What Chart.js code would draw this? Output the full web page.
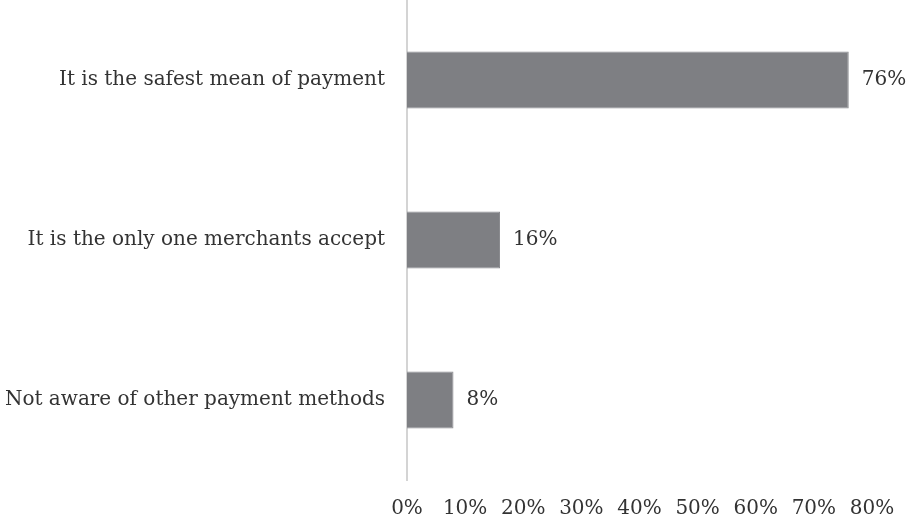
<!DOCTYPE html>
<html>
<head>
<meta charset="utf-8">
<script src="https://cdn.jsdelivr.net/npm/chart.js@4.4.1/dist/chart.umd.min.js"></script>
<style>
  html, body { margin: 0; padding: 0; background: #fff; }
  #wrap { width: 909px; height: 522px; }
</style>
</head>
<body>
<div id="wrap"><canvas id="chartMotivos"></canvas></div>
<script>
const reasons = [
  'It is the safest mean of payment',
  'It is the only one merchants accept',
  'Not aware of other payment methods',
]
const shares = [76, 16, 8]
const xTicks = [0, 10, 20, 30, 40, 50, 60, 70, 80]

const FONT = { family: '"DejaVu Serif", serif', size: 20 }
const TEXT = '#333333'

// value labels just past the end of each bar
const barLabels = {
  id: 'barLabels',
  afterDatasetsDraw(chart) {
    const { ctx } = chart
    const meta = chart.getDatasetMeta(0)
    ctx.save()
    ctx.font = FONT.size + 'px ' + FONT.family
    ctx.fillStyle = TEXT
    ctx.textAlign = 'left'
    ctx.textBaseline = 'middle'
    meta.data.forEach((bar, i) => {
      ctx.fillText(shares[i] + '%', bar.x + 13, bar.y)
    })
    ctx.restore()
  },
}

new Chart(document.getElementById('chartMotivos'), {
  type: 'bar',
  data: {
    labels: reasons,
    datasets: [
      {
        data: shares,
        backgroundColor: '#7e7f83',
        borderColor: '#8a8b8f',
        borderWidth: 1,
        barPercentage: 0.71,
        categoryPercentage: 0.5,
      },
    ],
  },
  plugins: [barLabels],
  options: {
    indexAxis: 'y',
    responsive: true,
    maintainAspectRatio: false,
    animation: false,
    layout: { padding: { left: 0, right: 37, top: 0, bottom: 2 } },
    plugins: { legend: { display: false }, tooltip: { enabled: false } },
    scales: {
      x: {
        min: 0,
        max: 80,
        afterBuildTicks: (scale) => { scale.ticks = xTicks.map((v) => ({ value: v })) },
        afterFit: (scale) => {
          scale.height = 40
          scale.paddingLeft = 0
          scale.paddingRight = 0
        },
        grid: { display: false, drawTicks: false },
        border: { display: false },
        ticks: { color: TEXT, font: FONT, padding: 17, maxRotation: 0, callback: (v) => v + '%' },
      },
      y: {
        afterFit: (scale) => {
          scale.width = 407
          scale.paddingTop = 0
          scale.paddingBottom = 0
        },
        grid: { display: false, drawTicks: false },
        border: { display: true, color: '#d4d4d4', width: 2 },
        ticks: { color: TEXT, font: FONT, padding: 22 },
      },
    },
  },
})
</script>
</body>
</html>
